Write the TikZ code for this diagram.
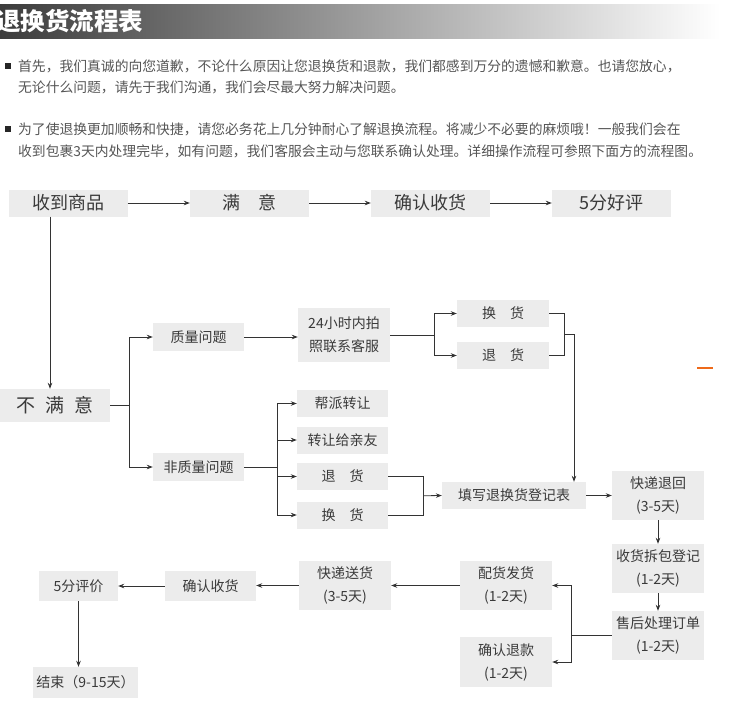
\documentclass[tikz,border=0pt]{standalone}
\usepackage{fontspec}
\setmainfont{Noto Sans CJK SC}
\usepackage{xcolor}
\usepackage{tikz}
\usetikzlibrary{arrows.meta,positioning,calc}

\definecolor{boxgray}{HTML}{ECECEC}
\definecolor{linegray}{HTML}{333333}
\definecolor{textgray}{HTML}{3A3A3A}
\definecolor{bargray}{HTML}{3C3C3C}
\definecolor{notegray}{HTML}{555555}
\definecolor{markorange}{HTML}{EE6A1A}

\begin{document}
\begin{tikzpicture}[x=1pt, y=-1pt,
    box/.style={rectangle, fill=boxgray, text=textgray, inner sep=0pt, align=center, font=\fontsize{14}{23}\selectfont},
    bigbox/.style={box, font=\fontsize{18}{20}\selectfont, minimum width=119pt, minimum height=27pt},
    smallbox/.style={box, minimum width=91pt, minimum height=27pt},
    tallbox/.style={box, minimum width=92pt, minimum height=49pt},
    note/.style={anchor=west, inner sep=0pt, text=notegray, font=\fontsize{13.8}{16}\selectfont},
    bullet/.style={fill=black!85, minimum size=6pt, inner sep=0pt},
    flow/.style={->, >={Stealth[length=6pt,width=4.5pt]}, draw=linegray, line width=0.8pt},
    link/.style={draw=linegray, line width=0.8pt}
]
\useasboundingbox (0,0) rectangle (747,723);

% Header
\shade[left color=bargray, right color=white] (0,4) rectangle (720,38);
\node[anchor=west, inner sep=0pt, text=white, font=\fontsize{24.5}{26}\selectfont\bfseries] (title) at (-4,21) {退换货流程表};

% Notes
\node[bullet] (b1) at (8,66) {};
\node[note] (n1) at (18,66) {首先，我们真诚的向您道歉，不论什么原因让您退换货和退款，我们都感到万分的遗憾和歉意。也请您放心，};
\node[note] (n2) at (18,87) {无论什么问题，请先于我们沟通，我们会尽最大努力解决问题。};
\node[bullet] (b2) at (8,129) {};
\node[note] (n3) at (18,129) {为了使退换更加顺畅和快捷，请您必务花上几分钟耐心了解退换流程。将减少不必要的麻烦哦！一般我们会在};
\node[note] (n4) at (18,151) {收到包裹3天内处理完毕，如有问题，我们客服会主动与您联系确认处理。详细操作流程可参照下面方的流程图。};

% Boxes
\node[bigbox] (shou) at (68,203) {收到商品};
\node[bigbox] (my) at (249.5,203) {满\hspace{1em}意};
\node[bigbox] (qrsh) at (430.5,203) {确认收货};
\node[bigbox] (hp) at (611.5,203) {5分好评};

\node[box, font=\fontsize{19}{20}\selectfont, minimum width=110pt, minimum height=33pt] (bmy) at (55,405.5) {不\hspace{0.55em}满\hspace{0.55em}意};
\node[smallbox, minimum height=28pt] (zl) at (198.5,337) {质量问题};
\node[box, minimum width=92pt, minimum height=54pt] (pz) at (344,335) {24小时内拍\\照联系客服};
\node[smallbox, minimum width=92pt] (hh1) at (503,313.5) {换\hspace{1em}货};
\node[smallbox, minimum width=92pt] (th1) at (503,355.5) {退\hspace{1em}货};
\node[smallbox, minimum height=28pt] (fzl) at (198.5,467) {非质量问题};
\node[smallbox] (bp) at (342.5,403.5) {帮派转让};
\node[smallbox] (zr) at (342.5,440) {转让给亲友};
\node[smallbox] (th2) at (342.5,476.5) {退\hspace{1em}货};
\node[smallbox] (hh2) at (342.5,515) {换\hspace{1em}货};
\node[smallbox, minimum width=144pt] (tx) at (514,495.5) {填写退换货登记表};

\node[tallbox] (kdth) at (658,495.5) {快递退回\\(3-5天)};
\node[tallbox] (shcb) at (658,568.5) {收货拆包登记\\(1-2天)};
\node[tallbox] (shcl) at (658,635.5) {售后处理订单\\(1-2天)};
\node[tallbox] (phfh) at (506,585.5) {配货发货\\(1-2天)};
\node[tallbox, minimum height=50pt] (qrtk) at (506,662) {确认退款\\(1-2天)};
\node[tallbox] (kdsh) at (345,585.5) {快递送货\\(3-5天)};
\node[smallbox, minimum height=30pt] (qrsh2) at (210.5,586) {确认收货};
\node[smallbox, minimum width=79pt, minimum height=30pt] (pj) at (78.5,586) {5分评价};
\node[smallbox, minimum width=105pt, minimum height=31pt] (js) at (85.5,682.5) {结束（9-15天）};

% Junctions
\coordinate (j1) at ([xshift=19pt]bmy.east);
\coordinate (j2) at ([xshift=44pt]pz.east);
\coordinate (j3) at ($(hh1.east)!0.5!(th1.east)+(15,0)$);
\coordinate (j5) at ([xshift=33pt]fzl.east);
\coordinate (j6) at ($(th2.east)!0.5!(hh2.east)+(35,0)$);
\coordinate (j7) at ([xshift=-40pt]shcl.west);

% Connectors
\draw[flow] (shou) -- (my);
\draw[flow] (my) -- (qrsh);
\draw[flow] (qrsh) -- (hp);
\draw[flow] ([xshift=-5pt]bmy.north |- shou.south) -- ([xshift=-5pt]bmy.north);

\draw[link] (bmy.east) -- (j1);
\draw[flow] (j1) |- (zl.west);
\draw[flow] (j1) |- (fzl.west);
\draw[flow] (zl.east) -- (zl.east -| pz.west);

\draw[link] (pz.east) -- (j2);
\draw[flow] (j2) |- (hh1.west);
\draw[flow] (j2) |- (th1.west);
\draw[link] (hh1.east) -| (j3) |- (th1.east);
\draw[flow] (j3) -| ([xshift=60pt]tx.north);

\draw[link] (fzl.east) -- (j5);
\foreach \n in {bp,zr,th2,hh2}
    \draw[flow] (j5) |- (\n.west);
\draw[link] (th2.east) -| (j6) |- (hh2.east);
\draw[flow] (j6) -- (tx.west);

\draw[flow] (tx) -- (kdth);
\draw[flow] (kdth) -- (shcb);
\draw[flow] (shcb) -- (shcl);

\draw[link] (shcl.west) -- (j7);
\draw[flow] (j7) |- (phfh.east);
\draw[flow] (j7) |- (qrtk.east);
\draw[flow] (phfh) -- (kdsh);
\draw[flow] (kdsh.west) -- (kdsh.west -| qrsh2.east);
\draw[flow] (qrsh2) -- (pj);
\draw[flow] (pj.south) -- (pj.south |- js.north);

% Mark
\draw[markorange, line width=2pt] (697,368) -- (713,368);

\end{tikzpicture}
\end{document}
